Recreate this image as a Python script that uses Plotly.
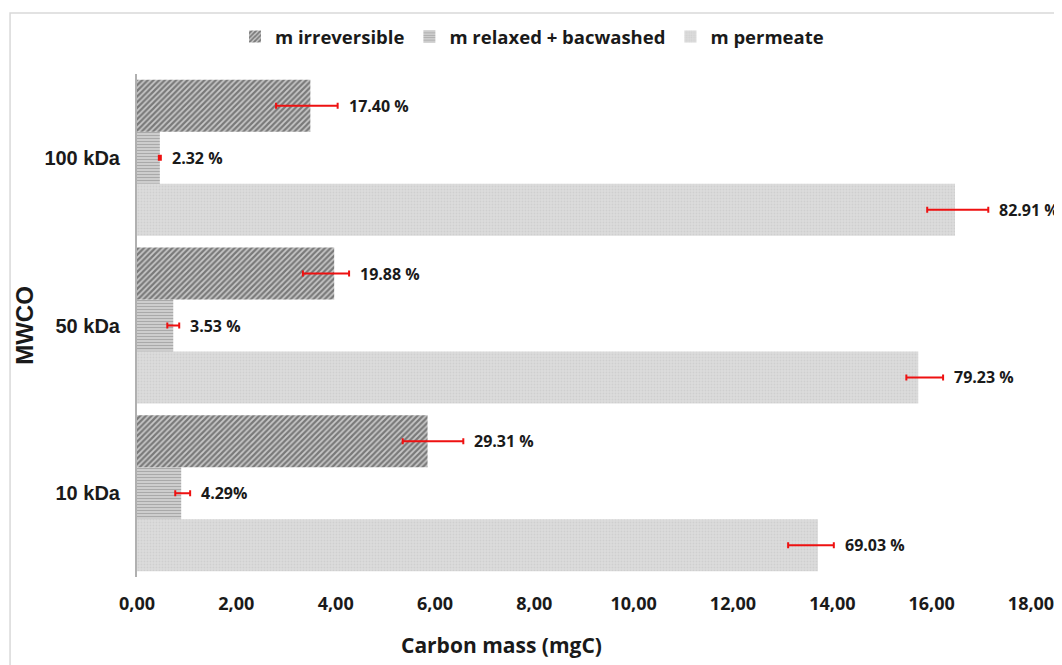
import plotly.graph_objects as go

categories = ["10 kDa", "50 kDa", "100 kDa"]

irreversible = [5.85, 3.97, 3.49]
irreversible_err_plus = [0.72, 0.30, 0.55]
irreversible_err_minus = [0.50, 0.63, 0.69]
irreversible_labels = ["29.31 %", "19.88 %", "17.40 %"]

relaxed = [0.89, 0.73, 0.46]
relaxed_err_plus = [0.18, 0.12, 0.02]
relaxed_err_minus = [0.12, 0.12, 0.02]
relaxed_labels = ["4.29%", "3.53 %", "2.32 %"]

permeate = [13.71, 15.73, 16.47]
permeate_err_plus = [0.32, 0.50, 0.67]
permeate_err_minus = [0.60, 0.24, 0.56]
permeate_labels = ["69.03 %", "79.23 %", "82.91 %"]

x_ticks = [0, 2, 4, 6, 8, 10, 12, 14, 16, 18]
x_tick_labels = ["0,00", "2,00", "4,00", "6,00", "8,00", "10,00", "12,00", "14,00", "16,00", "18,00"]

x_title = "Carbon mass (mgC)"
y_title = "MWCO"

FONT = "Open Sans"
ARIAL = "Liberation Sans"
TXT = "#1a1a1a"

def err(plus, minus):
    return dict(type="data", array=plus, arrayminus=minus, symmetric=False,
                color="#ee1111", thickness=2, width=3)

fig = go.Figure()
# Plotly draws horizontal grouped bars bottom-up, so add in reverse order
fig.add_trace(go.Bar(
    name="m permeate", y=categories, x=permeate, orientation="h",
    marker=dict(color="#d9d9d9", line=dict(width=0),
                pattern=dict(shape=".", fgcolor="#c2c2c2", bgcolor="#dcdcdc", size=3, solidity=0.3)),
    error_x=err(permeate_err_plus, permeate_err_minus), legendrank=3))
fig.add_trace(go.Bar(
    name="m relaxed + bacwashed", y=categories, x=relaxed, orientation="h",
    marker=dict(color="#bdbdbd", line=dict(width=0),
                pattern=dict(shape="-", fgcolor="#7a7a7a", bgcolor="#d8d8d8", size=3, solidity=0.5)),
    error_x=err(relaxed_err_plus, relaxed_err_minus), legendrank=2))
fig.add_trace(go.Bar(
    name="m irreversible", y=categories, x=irreversible, orientation="h",
    marker=dict(color="#666666", line=dict(width=0),
                pattern=dict(shape="/", fgcolor="#2a2a2a", bgcolor="#c8c8c8", size=4, solidity=0.55)),
    error_x=err(irreversible_err_plus, irreversible_err_minus), legendrank=1))

# value labels placed to the right of each error bar
groups = [(irreversible, irreversible_err_plus, irreversible_labels, 1),
          (relaxed, relaxed_err_plus, relaxed_labels, 0),
          (permeate, permeate_err_plus, permeate_labels, -1)]
annotations = []
for i, cat in enumerate(categories):
    for vals, plus, labels, k in groups:
        annotations.append(dict(
            x=vals[i] + plus[i], y=i + k * 0.31, xref="x", yref="y",
            text="<b>" + labels[i] + "</b>", showarrow=False,
            xanchor="left", xshift=9, font=dict(family=FONT, size=16, color=TXT)))

# x-axis title sits left of the plot centre in the reference
annotations.append(dict(
    x=0.408, y=-0.135, xref="paper", yref="paper", text="<b>" + x_title + "</b>",
    showarrow=False, xanchor="center", yanchor="middle",
    font=dict(family=FONT, size=21, color=TXT)))

# page body adds an 8px offset; figure sized to fill the remaining window
fig.update_layout(
    width=1054, height=657,
    paper_bgcolor="white", plot_bgcolor="white",
    margin=dict(l=129, r=31, t=66, b=88, autoexpand=False),
    barmode="group", bargap=0.07, bargroupgap=0,
    font=dict(family=FONT, color=TXT),
    showlegend=True,
    legend=dict(orientation="h", x=0.1096, xanchor="left", y=1.0736, yanchor="middle",
                font=dict(family=FONT, size=18.5, color=TXT, weight="bold"),
                itemwidth=30, bgcolor="rgba(0,0,0,0)"),
    annotations=annotations,
    shapes=[dict(type="rect", xref="paper", yref="paper",
                 x0=-0.142, x1=1.06, y0=-0.25, y1=1.1213,
                 line=dict(color="#d9d9d9", width=1.5), fillcolor="rgba(0,0,0,0)", layer="below")],
)
fig.update_xaxes(range=[0, 18], tickvals=x_ticks, ticktext=x_tick_labels, automargin=False,
                 showgrid=False, zeroline=False, showline=False, ticks="", ticklabelstandoff=14,
                 tickfont=dict(family=FONT, size=18, color=TXT, weight="bold"))
fig.update_yaxes(categoryorder="array", categoryarray=categories, range=[-0.5, 2.5], automargin=False,
                 showgrid=False, zeroline=False, showline=True, linecolor="#b0b0b0", linewidth=2,
                 ticks="", ticklabelstandoff=11,
                 tickfont=dict(family=ARIAL, size=20, color=TXT, weight="bold"),
                 title=dict(text=y_title, standoff=4,
                            font=dict(family=ARIAL, size=24, color=TXT, weight="bold")))

fig.write_html("out.html")
